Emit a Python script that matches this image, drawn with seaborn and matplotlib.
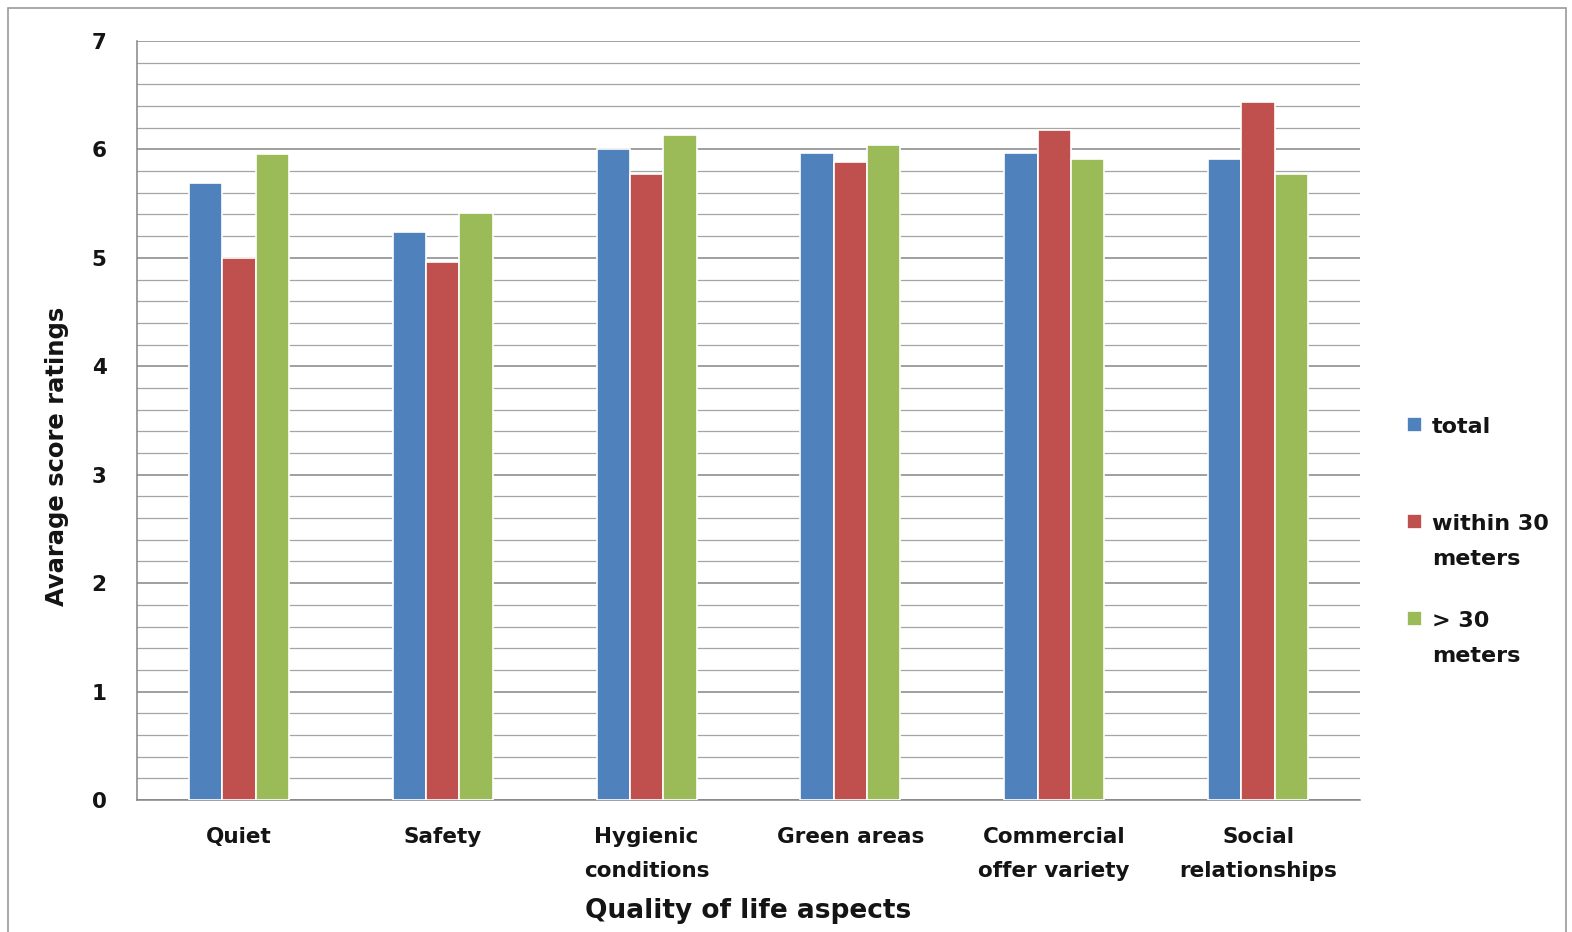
import numpy as np
import pandas as pd
import matplotlib
matplotlib.use("Agg")
import matplotlib.pyplot as plt
import seaborn as sns
from matplotlib.patches import Rectangle

categories = ["Quiet", "Safety", "Hygienic\nconditions", "Green areas",
              "Commercial\noffer variety", "Social\nrelationships"]
series_names = ["total", "within 30 meters", "> 30 meters"]
legend_labels = ["total\n ", "within 30\nmeters", "> 30\nmeters"]
total = [5.69, 5.24, 6.00, 5.97, 5.97, 5.91]
within_30 = [5.00, 4.96, 5.77, 5.88, 6.18, 6.44]
beyond_30 = [5.96, 5.41, 6.13, 6.04, 5.91, 5.77]
colors = ["#4F81BD", "#C0504D", "#9BBB59"]

rows = []
for name, vals in zip(series_names, [total, within_30, beyond_30]):
    for c, v in zip(categories, vals):
        rows.append({"aspect": c, "score": v, "group": name})
df = pd.DataFrame(rows)

sns.set_theme(style="white")
plt.rcParams["font.family"] = ["DejaVu Sans"]

W, H = 1572, 932
fig = plt.figure(figsize=(W/100, H/100), dpi=100)
ax = fig.add_axes([137/W, 1 - 800/H, (1360-137)/W, (800-41)/H])

sns.barplot(data=df, x="aspect", y="score", hue="group", order=categories,
            hue_order=series_names, palette=colors, saturation=1, width=0.49,
            edgecolor="white", linewidth=1.2, ax=ax, legend=True, zorder=3)

ax.set_ylim(0, 7)
ax.set_xlim(-0.5, 5.5)
ax.set_yticks(np.arange(0, 8, 1))
ax.set_yticks(np.arange(0, 7.01, 0.2), minor=True)
ax.grid(axis="y", which="major", color="#858585", linewidth=1.1, zorder=0)
ax.grid(axis="y", which="minor", color="#a5a5a5", linewidth=0.9, zorder=0)
ax.grid(axis="x", visible=False)
ax.set_axisbelow(True)

for s in ["top", "right"]:
    ax.spines[s].set_visible(False)
for s in ["left", "bottom"]:
    ax.spines[s].set_color("#858585")
    ax.spines[s].set_linewidth(1.1)

tick_font = dict(family="DejaVu Sans", weight="bold", size=15.5)
ax.tick_params(axis="y", which="major", direction="out", length=7, width=1.1,
               color="#858585", pad=15)
ax.tick_params(axis="y", which="minor", length=0)
ax.tick_params(axis="x", length=0, pad=19.5)
for lab in ax.get_xticklabels() + ax.get_yticklabels():
    lab.set_fontproperties(tick_font)
    lab.set_color("#141414")
    lab.set_linespacing(1.88)

ax.set_xlabel("Quality of life aspects",
              fontdict=dict(family="DejaVu Sans", weight="bold", size=19),
              color="#141414")
ax.set_ylabel("Avarage score ratings",
              fontdict=dict(family="DejaVu Sans", weight="bold", size=17.5),
              color="#141414")
ax.xaxis.set_label_coords(0.5, -(911 - 800) / (800 - 41), transform=ax.transAxes)
ax.yaxis.set_label_coords((57 - 137) / (1360 - 137), (800 - 456) / (800 - 41),
                          transform=ax.transAxes)
ax.xaxis.label.set_va("center")
ax.yaxis.label.set_va("center")

handles, _ = ax.get_legend_handles_labels()
leg = ax.legend(handles, legend_labels, loc="upper left",
                bbox_to_anchor=(1407 / W, 1 - 417 / H),
                bbox_transform=fig.transFigure, frameon=False,
                prop=dict(family="DejaVu Sans", weight="bold", size=16),
                handlelength=0.68, handleheight=0.68, handletextpad=0.45,
                labelspacing=1.9, borderpad=0, borderaxespad=0)
for t in leg.get_texts():
    t.set_color("#141414")
    t.set_linespacing(1.92)
for col in leg._legend_handle_box.get_children():
    for entry in col.get_children():
        entry.align = "top"

fig.patches.append(Rectangle((8 / W, -0.01), (1566 - 8) / W, 1 - 8 / H + 0.01,
                             transform=fig.transFigure, fill=False,
                             edgecolor="#9a9a9a", linewidth=1.2))

fig.savefig("out.png", dpi=100, facecolor="white")
